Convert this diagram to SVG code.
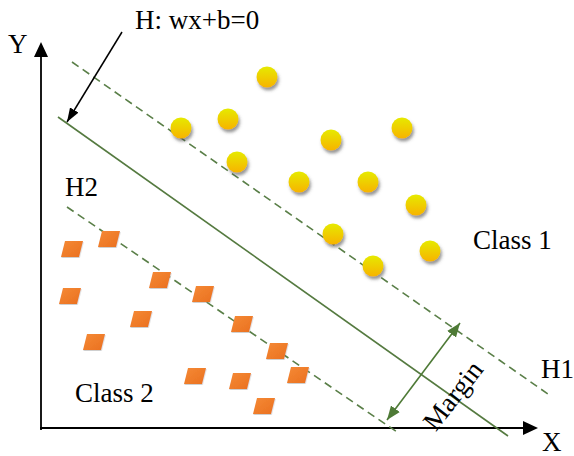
<svg xmlns="http://www.w3.org/2000/svg" width="574" height="456" viewBox="0 0 574 456">
<style>
text{font-family:"Liberation Serif","Times New Roman",serif;font-size:27px;fill:#000}
.axis{stroke:#000;stroke-width:1.8;fill:none}
.dash{stroke:#5a7f48;stroke-width:1.6;stroke-dasharray:8 5;fill:none}
.solid{stroke:#557a40;stroke-width:1.6;fill:none}
.dot{fill:url(#gy);filter:url(#sh)}
.sq{fill:url(#go);filter:url(#sh2)}
</style>
<defs>
<linearGradient id="gy" x1="0" y1="0" x2="0" y2="1">
<stop offset="0" stop-color="#e6ea00"/>
<stop offset="1" stop-color="#f7b300"/>
</linearGradient>
<linearGradient id="go" x1="0" y1="0" x2="1" y2="1">
<stop offset="0" stop-color="#f58a35"/>
<stop offset="1" stop-color="#ea7020"/>
</linearGradient>
<filter id="sh" x="-50%" y="-50%" width="200%" height="200%">
<feDropShadow dx="1.5" dy="3" stdDeviation="1.5" flood-color="#444" flood-opacity="0.55"/>
</filter>
<filter id="sh2" x="-50%" y="-50%" width="200%" height="200%">
<feDropShadow dx="0.5" dy="1" stdDeviation="0.6" flood-color="#888" flood-opacity="0.4"/>
</filter>
<marker id="ab" viewBox="0 0 14 10" refX="14" refY="5" markerWidth="14" markerHeight="10" markerUnits="userSpaceOnUse" orient="auto">
<path d="M0,0 L14,5 L0,10 Z" fill="#000"/>
</marker>
<marker id="ag" viewBox="0 0 14 11" refX="14" refY="5.5" markerWidth="14" markerHeight="11" markerUnits="userSpaceOnUse" orient="auto-start-reverse">
<path d="M0,0 L14,5.5 L0,11 Z" fill="#4e7a36"/>
</marker>
<path id="q" d="M-7,-8 L11,-8 L7,8 L-11,8 Z"/>
</defs>

<g id="axes">
<line class="axis" x1="41" y1="430" x2="41" y2="56"/>
<path d="M41,42 L34,57 L48,57 Z" fill="#000"/>
<line class="axis" x1="40" y1="428" x2="524" y2="428"/>
<path d="M538,428 L523,421 L523,435 Z" fill="#000"/>
<text x="8" y="53">Y</text>
<text x="542" y="451">X</text>
</g>

<g id="hyperplanes">
<line id="H" class="solid" x1="58" y1="117" x2="508" y2="436"/>
<line id="H1" class="dash" x1="72" y1="62" x2="548" y2="394"/>
<line id="H2" class="dash" x1="67" y1="207" x2="397" y2="432"/>
</g>

<g id="class1">
<circle class="dot" cx="267" cy="77" r="10.5"/>
<circle class="dot" cx="181" cy="128" r="10.5"/>
<circle class="dot" cx="228" cy="119" r="10.5"/>
<circle class="dot" cx="237" cy="162" r="10.5"/>
<circle class="dot" cx="331" cy="140" r="10.5"/>
<circle class="dot" cx="402" cy="128" r="10.5"/>
<circle class="dot" cx="299" cy="182" r="10.5"/>
<circle class="dot" cx="368" cy="182" r="10.5"/>
<circle class="dot" cx="416" cy="205" r="10.5"/>
<circle class="dot" cx="333" cy="234" r="10.5"/>
<circle class="dot" cx="430" cy="251" r="10.5"/>
<circle class="dot" cx="373" cy="266" r="10.5"/>
</g>

<g id="class2">
<use href="#q" class="sq" x="72" y="249"/>
<use href="#q" class="sq" x="109" y="239"/>
<use href="#q" class="sq" x="160" y="280"/>
<use href="#q" class="sq" x="203" y="294"/>
<use href="#q" class="sq" x="70" y="296"/>
<use href="#q" class="sq" x="141" y="319"/>
<use href="#q" class="sq" x="242" y="324"/>
<use href="#q" class="sq" x="94" y="342"/>
<use href="#q" class="sq" x="277" y="351"/>
<use href="#q" class="sq" x="195" y="376"/>
<use href="#q" class="sq" x="240" y="381"/>
<use href="#q" class="sq" x="298" y="375"/>
<use href="#q" class="sq" x="264" y="406"/>
</g>

<g id="connectors">
<line x1="122" y1="32" x2="67" y2="122" stroke="#000" stroke-width="1.5" marker-end="url(#ab)"/>
<line x1="387" y1="420" x2="460" y2="323" stroke="#4e7a36" stroke-width="1.6" marker-start="url(#ag)" marker-end="url(#ag)"/>
</g>

<g id="labels">
<text x="135" y="29">H: wx+b=0</text>
<text x="65" y="196">H2</text>
<text x="473" y="249">Class 1</text>
<text x="541" y="378">H1</text>
<text x="75" y="402">Class 2</text>
<text transform="translate(460,401) rotate(-52)" text-anchor="middle">Margin</text>
</g>
</svg>
